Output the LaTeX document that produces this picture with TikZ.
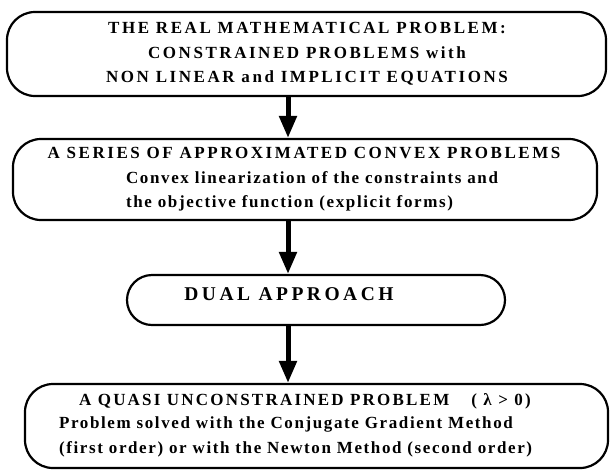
\documentclass[tikz,border=0pt]{standalone}
\usepackage{fontspec}
\setmainfont{Liberation Serif}
\usetikzlibrary{arrows.meta}

\begin{document}
\begin{tikzpicture}[x=1pt, y=-1pt, line width=2.2pt,
    caja/.style={draw, rounded corners=28pt, inner sep=0pt},
    texto/.style={inner sep=0pt, font=\bfseries\fontsize{17}{24.5}\selectfont\addfontfeature{LetterSpace=15}},
    textomin/.style={inner sep=0pt, font=\bfseries\fontsize{17}{24}\selectfont\addfontfeature{LetterSpace=9.5}},
    flecha/.style={line width=5pt, -{Triangle[width=17pt,length=22pt]}}]
    \useasboundingbox (0,0) rectangle (612,472);

    % Problema real
    \node[caja, minimum width=599pt, minimum height=84pt] (real) at (306.5,54) {};
    \node[texto, align=center] (realtxt) at (307,54) {THE REAL MATHEMATICAL PROBLEM:\\ CONSTRAINED PROBLEMS with\\ NON LINEAR and IMPLICIT EQUATIONS};

    % Serie de problemas convexos
    \node[caja, minimum width=584pt, minimum height=81pt] (series) at (305,179.5) {};
    \node[texto, anchor=base] (seriestit) at (304,158) {A SERIES OF APPROXIMATED CONVEX PROBLEMS};
    \node[textomin, align=left, anchor=north west] (seriestxt) at (125,170.5) {Convex linearization of the constraints and\\ the objective function (explicit forms)};

    % Enfoque dual
    \node[caja, rounded corners=25pt, minimum width=378pt, minimum height=50pt] (dual) at (316,300) {};
    \node[texto, font=\bfseries\fontsize{19.5}{24}\selectfont\addfontfeature{LetterSpace=18}, anchor=base] (dualtxt) at (289,300) {DUAL APPROACH};

    % Problema casi sin restricciones
    \node[caja, minimum width=583pt, minimum height=84pt] (quasi) at (316.5,426) {};
    \node[texto, anchor=base west, font=\bfseries\fontsize{17}{24}\selectfont\addfontfeature{LetterSpace=13}] (quasitit) at (78,405) {A QUASI UNCONSTRAINED PROBLEM\hspace{22pt}( λ > 0)};
    \node[textomin, align=left, anchor=north west, font=\bfseries\fontsize{17}{24.5}\selectfont\addfontfeature{LetterSpace=9.5}] (quasitxt) at (58,416) {Problem solved with the Conjugate Gradient Method\\ (first order) or with the Newton Method (second order)};

    % Flechas
    \coordinate (eje) at (288,0);
    \draw[flecha] (real.south -| eje) -- (series.north -| eje);
    \draw[flecha] (series.south -| eje) -- (dual.north -| eje);
    \draw[flecha] (dual.south -| eje) -- (quasi.north -| eje);
\end{tikzpicture}
\end{document}
